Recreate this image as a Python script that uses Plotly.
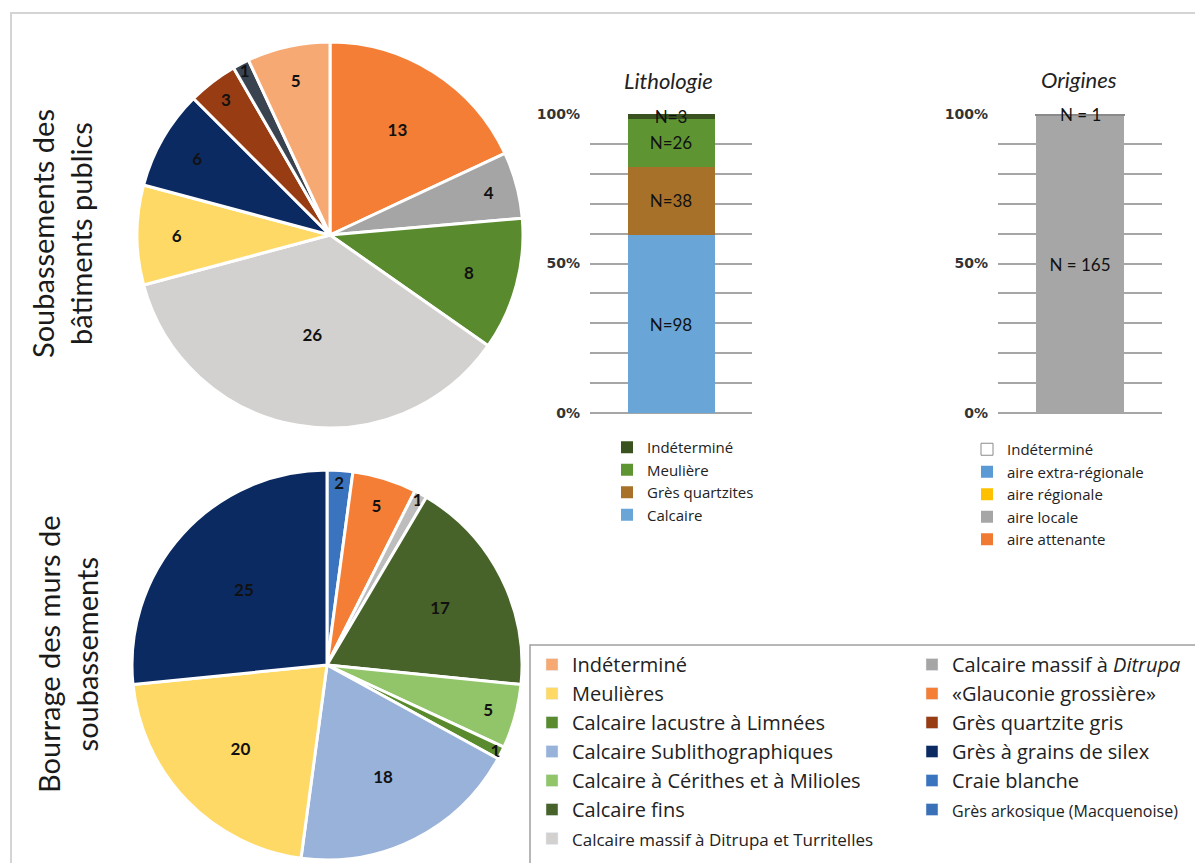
import plotly.graph_objects as go

W, H = 1203, 863
OFF = 8  # page body margin in the browser
def X(px): return (px - OFF) / W
def Y(py): return 1 - (py - OFF) / H

FONT = "Lato"
LFONT = "Open Sans"

# ---------------- data ----------------
top_labels = ["«Glauconie grossière»", "Calcaire massif à Ditrupa", "Calcaire lacustre à Limnées",
              "Calcaire massif à Ditrupa et Turritelles", "Meulières", "Grès à grains de silex",
              "Grès quartzite gris", "Grès arkosique (Macquenoise)", "Indéterminé"]
top_values = [13, 4, 8, 26, 6, 6, 3, 1, 5]
top_colors = ["#F47E35", "#A5A5A5", "#5A8A2E", "#D3D1CF", "#FFD966", "#0B2A62",
              "#983C14", "#3A4450", "#F6A972"]

bot_labels = ["Craie blanche", "«Glauconie grossière»", "Calcaire massif à Ditrupa", "Calcaire fins",
              "Calcaire à Cérithes et à Milioles", "Calcaire lacustre à Limnées",
              "Calcaire Sublithographiques", "Meulières", "Grès à grains de silex"]
bot_values = [2, 5, 1, 17, 5, 1, 18, 20, 25]
bot_colors = ["#3B74BE", "#F47E35", "#BDBDBD", "#47632A", "#92C56A", "#5A8A2E",
              "#98B2DA", "#FFD966", "#0B2A62"]

litho_names = ["Calcaire", "Grès quartzites", "Meulière", "Indéterminé"]
litho_values = [98, 38, 26, 3]
litho_colors = ["#69A5D6", "#A8712A", "#5F9433", "#39521F"]

orig_names = ["aire attenante", "aire locale", "aire régionale", "aire extra-régionale", "Indéterminé"]
orig_values = [0, 165, 0, 0, 1]
orig_colors = ["#F07A32", "#A6A6A6", "#FFC000", "#5B9BD5", "#FFFFFF"]

pct_ticks = [0, 10, 20, 30, 40, 50, 60, 70, 80, 90, 100]
pct_ticktext = ["0%", "", "", "", "", "50%", "", "", "", "", "100%"]

legend_left = ["Indéterminé", "Meulières", "Calcaire lacustre à Limnées", "Calcaire Sublithographiques",
               "Calcaire à Cérithes et à Milioles", "Calcaire fins",
               "<span style='font-size:17px'>Calcaire massif à Ditrupa et Turritelles</span>"]
legend_left_colors = ["#F6A972", "#FFD966", "#5A8A2E", "#98B2DA", "#92C56A", "#47632A", "#D3D1CF"]
legend_right = ["Calcaire massif à <i>Ditrupa</i>", "«Glauconie grossière»", "Grès quartzite gris",
                "Grès à grains de silex", "Craie blanche",
                "<span style='font-size:16px'>Grès arkosique (Macquenoise)</span>"]
legend_right_colors = ["#A5A5A5", "#F47E35", "#983C14", "#0B2A62", "#3B74BE", "#3A70B8"]

fig = go.Figure()

# ---------------- pies ----------------
pie_font = dict(family=FONT, size=17, color="#111111", weight="bold")
fig.add_trace(go.Pie(
    labels=top_labels, values=top_values, sort=False, direction="clockwise", rotation=0,
    marker=dict(colors=top_colors, line=dict(color="white", width=3)),
    textinfo="value", textposition="inside", insidetextorientation="horizontal",
    textfont=pie_font,
    domain=dict(x=[X(137), X(523)], y=[Y(428), Y(42)]), showlegend=False, name="Soubassements"))

fig.add_trace(go.Pie(
    labels=bot_labels, values=bot_values, sort=False, direction="clockwise", rotation=0,
    marker=dict(colors=bot_colors, line=dict(color="white", width=3)),
    textinfo="value", textposition="inside", insidetextorientation="horizontal",
    textfont=pie_font,
    domain=dict(x=[X(132), X(522)], y=[Y(860), Y(470)]), showlegend=False, name="Bourrage"))

# ---------------- Lithologie stacked bar ----------------
bar_font = dict(family=FONT, size=17, color="#111111")
for n, v, c in zip(litho_names, litho_values, litho_colors):
    fig.add_trace(go.Bar(
        x=["Lithologie"], y=[v], name=n, marker=dict(color=c, line=dict(width=0)),
        text=[f"N={v}"], textposition="inside", insidetextanchor="middle",
        constraintext="none", cliponaxis=False, textfont=bar_font,
        xaxis="x", yaxis="y", legend="legend"))

# ---------------- Origines stacked bar ----------------
orig_total = sum(orig_values)
for n, v, c in zip(orig_names, orig_values, orig_colors):
    is_white = c == "#FFFFFF"
    big = v / orig_total > 0.05
    fig.add_trace(go.Bar(
        x=["Origines"], y=[v], name=n,
        marker=dict(color=c, line=dict(color="#8a8a8a" if is_white else c, width=1 if is_white else 0)),
        text=[f"N = {v}" if big else ""], textposition="inside", insidetextanchor="middle",
        constraintext="none", cliponaxis=False, textfont=bar_font,
        xaxis="x2", yaxis="y2", legend="legend2"))

# labels of the very thin top segment of "Origines" (placed from the data)
small_annots = []
cum = 0
for n, v in zip(orig_names, orig_values):
    if v and v / orig_total <= 0.05:
        small_annots.append(dict(
            text=f"N = {v}", x="Origines", y=100 * (cum + v / 2) / orig_total,
            xref="x2", yref="y2", showarrow=False, xanchor="center", yanchor="middle",
            font=bar_font))
    cum += v

# ---------------- big legend entries (no drawn marks) ----------------
for n, c in zip(legend_left, legend_left_colors):
    fig.add_trace(go.Bar(x=[None], y=[None], name=n, marker=dict(color=c),
                         xaxis="x3", yaxis="y3", legend="legend3", showlegend=True))
for n, c in zip(legend_right, legend_right_colors):
    fig.add_trace(go.Bar(x=[None], y=[None], name=n, marker=dict(color=c),
                         xaxis="x3", yaxis="y3", legend="legend4", showlegend=True))

axis_y_common = dict(range=[0, 100], tickvals=pct_ticks, ticktext=pct_ticktext,
                     showgrid=True, gridcolor="#a6a6a6", gridwidth=1.5,
                     zeroline=True, zerolinecolor="#a6a6a6", zerolinewidth=1.5,
                     showline=False, ticks="", ticklabelstandoff=9,
                     tickfont=dict(family="DejaVu Sans", size=14, color="#333333", weight="bold"),
                     fixedrange=True)

leg_common = dict(xanchor="left", yanchor="top", bgcolor="rgba(0,0,0,0)",
                  itemclick=False, itemdoubleclick=False)

fig.update_layout(
    width=W, height=H, margin=dict(l=0, r=0, t=0, b=0, autoexpand=False),
    paper_bgcolor="white", plot_bgcolor="rgba(0,0,0,0)",
    barmode="stack", barnorm="percent", bargap=0.463,
    uniformtext=dict(minsize=15, mode="show"),
    xaxis=dict(domain=[X(590), X(752)], range=[-0.5, 0.5], showticklabels=False,
               showgrid=False, zeroline=False, fixedrange=True),
    yaxis=dict(domain=[Y(413), Y(114)], **axis_y_common),
    xaxis2=dict(domain=[X(998), X(1162)], range=[-0.5, 0.5], showticklabels=False,
                showgrid=False, zeroline=False, fixedrange=True),
    yaxis2=dict(domain=[Y(413), Y(114)], anchor="x2", **axis_y_common),
    xaxis3=dict(visible=False, domain=[0.99, 1.0]),
    yaxis3=dict(visible=False, domain=[0.0, 0.01], anchor="x3"),
    legend=dict(x=X(607), y=Y(431), traceorder="reversed",
                font=dict(family=LFONT, size=15, color="#222222"), **leg_common),
    legend2=dict(x=X(967), y=Y(433), traceorder="reversed",
                 font=dict(family=LFONT, size=15, color="#222222"), **leg_common),
    legend3=dict(x=X(532), y=Y(645), traceorder="normal",
                 font=dict(family=LFONT, size=20, color="#222222"), **leg_common),
    legend4=dict(x=X(912), y=Y(645), traceorder="normal",
                 font=dict(family=LFONT, size=20, color="#222222"), **leg_common),
    annotations=[
        dict(text="<i>Lithologie</i>", x=X(668), y=Y(81), xref="paper", yref="paper",
             xanchor="center", yanchor="middle", showarrow=False,
             font=dict(family=FONT, size=22, color="#222222")),
        dict(text="<i>Origines</i>", x=X(1079), y=Y(79), xref="paper", yref="paper",
             xanchor="center", yanchor="middle", showarrow=False,
             font=dict(family=FONT, size=22, color="#222222")),
        dict(text="Soubassements des<br>bâtiments publics", textangle=-90,
             x=X(62), y=Y(234), xref="paper", yref="paper", xanchor="center", yanchor="middle",
             showarrow=False, font=dict(family=FONT, size=29, color="#1a1a1a")),
        dict(text="Bourrage des murs de<br>soubassements", textangle=-90,
             x=X(67), y=Y(654), xref="paper", yref="paper", xanchor="center", yanchor="middle",
             showarrow=False, font=dict(family=FONT, size=29, color="#1a1a1a")),
    ] + small_annots,
    shapes=[
        dict(type="rect", xref="paper", yref="paper", x0=X(11), x1=1.05, y0=-0.05, y1=Y(13),
             line=dict(color="#d4d4d4", width=2), layer="below"),
        dict(type="rect", xref="paper", yref="paper", x0=X(530), x1=1.05, y0=-0.05, y1=Y(645),
             line=dict(color="#a0a0a0", width=1.5), layer="below"),
    ],
)

fig.write_html("out.html")
